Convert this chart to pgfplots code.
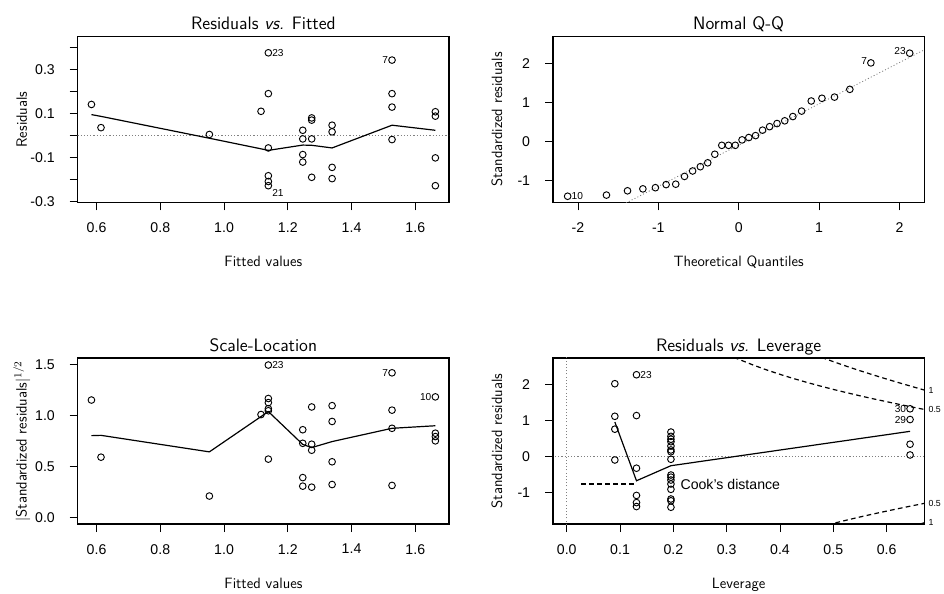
\documentclass[border=0pt]{standalone}
\usepackage{fontspec}
\setmainfont{Liberation Sans}
\usepackage{pgfplots}
\pgfplotsset{compat=1.18}
\newcommand{\tickf}{\fontsize{10.6}{12}\selectfont}
\newcommand{\labf}{\sffamily\fontsize{11.2}{13}\selectfont}
\newcommand{\titf}{\sffamily\fontsize{13.5}{15}\selectfont}
\newcommand{\idf}{\fontsize{7.6}{9}\selectfont}
\newcommand{\ckf}{\fontsize{6.6}{8}\selectfont}

\tikzset{
 idl/.style={font=\idf, inner sep=0pt, anchor=west, xshift=2.8pt},
 idr/.style={font=\idf, inner sep=0pt, anchor=east, xshift=-2.8pt},
}
\pgfplotsset{
 rbase/.style={
  scale only axis, width=278.5pt, height=124.5pt,
  anchor=south west,
  axis line style={line width=0.9pt},
  tick style={line width=0.6pt, black},
  major tick length=6pt,
  xtick pos=bottom, ytick pos=left,
  tick align=outside,
  clip mode=individual,
  every axis title/.style={font=\titf, at={(0.5,1)}, anchor=base, yshift=5pt},
  every axis x label/.style={font=\labf, at={(axis description cs:0.5,0)}, anchor=base, yshift=-48pt},
  every axis y label/.style={font=\labf, at={(axis description cs:0,0.5)}, rotate=90, anchor=center, yshift=42pt},
  xticklabel style={font=\tickf, anchor=north, yshift=-9pt, inner sep=0pt},
  yticklabel style={font=\tickf, anchor=east, xshift=-11pt, inner sep=0pt},
 },
 pts/.style={only marks, mark=o, mark size=2.5pt, black, mark options={line width=0.7pt}},
 lowess/.style={no marks, black, line width=0.9pt},
 refl/.style={no marks, gray, dash pattern=on 0.8pt off 1.6pt, line width=0.6pt},
 cook/.style={no marks, black, dash pattern=on 3.5pt off 2.5pt, line width=0.9pt},
}

\begin{document}
\begin{tikzpicture}
\useasboundingbox (0pt,0pt) rectangle (708pt,444.75pt);

% ---------------- Residuals vs Fitted
\begin{axis}[rbase, at={(58.3pt,292.9pt)},
  title={Residuals \textit{vs.} Fitted},
  xlabel={Fitted values}, ylabel={Residuals},
  xmin=0.541, xmax=1.706, ymin=-0.303, ymax=0.449,
  xtick={0.6,0.8,1.0,1.2,1.4,1.6}, xticklabels={0.6,0.8,1.0,1.2,1.4,1.6},
  ytick={-0.3,-0.2,-0.1,0,0.1,0.2,0.3,0.4}, yticklabels={-0.3,,-0.1,,0.1,,0.3,},
]
\addplot[refl] coordinates {(0.5,0) (1.8,0)};
\addplot[pts] table {
0.584 0.141
0.614 0.036
0.954 0.005
1.116 0.110
1.139 0.375
1.139 0.190
1.139 -0.056
1.139 -0.182
1.139 -0.208
1.139 -0.227
1.247 0.024
1.247 -0.015
1.247 -0.086
1.247 -0.120
1.275 0.080
1.275 0.070
1.275 -0.015
1.275 -0.189
1.339 0.047
1.339 0.017
1.339 -0.144
1.339 -0.195
1.527 0.342
1.527 0.190
1.527 0.129
1.527 -0.018
1.663 0.108
1.663 0.088
1.663 -0.101
1.663 -0.227
};
\addplot[lowess] coordinates {(0.584,0.095) (0.614,0.087) (0.954,-0.012) (1.116,-0.060) (1.139,-0.067) (1.247,-0.043) (1.275,-0.044) (1.339,-0.056) (1.527,0.047) (1.663,0.024)};
\node[idl] at (axis cs:1.139,0.375) {23};
\node[idl, yshift=-5.5pt] at (axis cs:1.139,-0.227) {21};
\node[idr] at (axis cs:1.527,0.342) {7};
\end{axis}

% ---------------- Normal Q-Q
\begin{axis}[rbase, at={(414.75pt,292.9pt)},
  title={Normal Q-Q},
  xlabel={Theoretical Quantiles}, ylabel={Standardized residuals},
  xmin=-2.31, xmax=2.31, ymin=-1.57, ymax=2.70,
  xtick={-2,-1,0,1,2}, xticklabels={-2,-1,0,1,2},
  ytick={-1,0,1,2}, yticklabels={-1,0,1,2},
]
\addplot[refl] coordinates {(-2.5,-2.75) (2.5,2.56)};
\addplot[pts] table {
-2.128 -1.41
-1.645 -1.38
-1.383 -1.27
-1.192 -1.22
-1.036 -1.19
-0.903 -1.11
-0.783 -1.10
-0.674 -0.90
-0.573 -0.76
-0.477 -0.65
-0.385 -0.55
-0.297 -0.33
-0.210 -0.10
-0.126 -0.10
-0.042 -0.10
0.042 0.04
0.126 0.10
0.210 0.15
0.297 0.29
0.385 0.38
0.477 0.46
0.573 0.53
0.674 0.64
0.783 0.78
0.903 1.04
1.036 1.11
1.192 1.14
1.383 1.34
1.645 2.02
2.128 2.27
};
\node[idl] at (axis cs:-2.128,-1.41) {10};
\node[idr, yshift=1.5pt] at (axis cs:1.645,2.02) {7};
\node[idr, yshift=1.5pt] at (axis cs:2.128,2.27) {23};
\end{axis}

% ---------------- Scale-Location
\begin{axis}[rbase, at={(58.3pt,51.75pt)},
  title={Scale-Location},
  xlabel={Fitted values}, ylabel={$|$Standardized residuals$|^{1/2}$},
  xmin=0.541, xmax=1.706, ymin=-0.060, ymax=1.567,
  xtick={0.6,0.8,1.0,1.2,1.4,1.6}, xticklabels={0.6,0.8,1.0,1.2,1.4,1.6},
  ytick={0,0.5,1,1.5}, yticklabels={0.0,0.5,1.0,1.5},
]
\addplot[pts] table {
0.584 1.155
0.614 0.595
0.954 0.214
1.116 1.013
1.139 1.498
1.139 1.170
1.139 1.130
1.139 1.070
1.139 1.050
1.139 0.576
1.247 0.864
1.247 0.731
1.247 0.395
1.247 0.311
1.275 1.087
1.275 0.722
1.275 0.663
1.275 0.301
1.339 1.100
1.339 0.945
1.339 0.550
1.339 0.327
1.527 1.422
1.527 1.056
1.527 0.878
1.527 0.318
1.663 1.186
1.663 0.830
1.663 0.797
1.663 0.755
};
\addplot[lowess] coordinates {(0.584,0.806) (0.614,0.809) (0.954,0.647) (1.116,0.993) (1.139,1.042) (1.247,0.72) (1.275,0.689) (1.339,0.748) (1.527,0.878) (1.663,0.903)};
\node[idl] at (axis cs:1.139,1.498) {23};
\node[idr] at (axis cs:1.527,1.422) {7};
\node[idr] at (axis cs:1.663,1.186) {10};
\end{axis}

% ---------------- Residuals vs Leverage
\begin{axis}[rbase, at={(414.75pt,51.75pt)},
  title={Residuals \textit{vs.} Leverage},
  xlabel={Leverage}, ylabel={Standardized residuals},
  xmin=-0.0258, xmax=0.6708, ymin=-1.888, ymax=2.748,
  xtick={0,0.1,0.2,0.3,0.4,0.5,0.6}, xticklabels={0.0,0.1,0.2,0.3,0.4,0.5,0.6},
  ytick={-1,0,1,2}, yticklabels={-1,0,1,2},
]
\addplot[refl] coordinates {(0,-2) (0,3)};
\addplot[refl] coordinates {(-0.1,0) (0.8,0)};
\addplot[pts] table {
0.0902 2.03
0.0902 1.12
0.0902 0.76
0.0902 -0.10
0.1308 2.28
0.1308 1.14
0.1308 -0.33
0.1308 -1.09
0.1308 -1.29
0.1308 -1.40
0.1954 0.68
0.1954 0.56
0.1954 0.48
0.1954 0.41
0.1954 0.29
0.1954 0.18
0.1954 0.13
0.1954 -0.08
0.1954 -0.52
0.1954 -0.58
0.1954 -0.66
0.1954 -0.77
0.1954 -0.92
0.1954 -1.19
0.1954 -1.24
0.1954 -1.42
0.644 1.33
0.644 1.03
0.644 0.34
0.644 0.04
};
\addplot[lowess] coordinates {(0.0902,0.96) (0.1308,-0.68) (0.1954,-0.26) (0.644,0.70)};
% Cook's distance contours (p = 7)
\addplot[cook] coordinates {(0.30,2.858) (0.32,2.727) (0.35,2.550) (0.375,2.415) (0.40,2.291) (0.425,2.176) (0.45,2.068) (0.475,1.967) (0.50,1.871) (0.525,1.780) (0.55,1.692) (0.575,1.608) (0.60,1.528) (0.625,1.449) (0.65,1.373) (0.6708,1.311)};
\addplot[cook] coordinates {(0.45,2.925) (0.475,2.782) (0.50,2.646) (0.525,2.517) (0.55,2.393) (0.575,2.275) (0.60,2.160) (0.625,2.049) (0.65,1.941) (0.6708,1.853)};
\addplot[cook] coordinates {(0.475,-1.967) (0.50,-1.871) (0.525,-1.780) (0.55,-1.692) (0.575,-1.608) (0.60,-1.528) (0.625,-1.449) (0.65,-1.373) (0.6708,-1.311)};
\addplot[cook] coordinates {(0.65,-1.941) (0.6708,-1.853)};
\addplot[cook] coordinates {(0.0275,-0.77) (0.1308,-0.77)};
\node[font=\tickf, anchor=west, inner sep=0pt] at (axis cs:0.213,-0.77) {Cook's distance};
\node[idl] at (axis cs:0.1308,2.28) {23};
\node[idr] at (axis cs:0.644,1.33) {30};
\node[idr] at (axis cs:0.644,1.03) {29};
\node[font=\ckf, anchor=west, inner sep=0pt, xshift=3pt] at (axis cs:0.6708,1.853) {1};
\node[font=\ckf, anchor=west, inner sep=0pt, xshift=3pt] at (axis cs:0.6708,1.311) {0.5};
\node[font=\ckf, anchor=west, inner sep=0pt, xshift=3pt] at (axis cs:0.6708,-1.311) {0.5};
\node[font=\ckf, anchor=west, inner sep=0pt, xshift=3pt] at (axis cs:0.6708,-1.853) {1};
\end{axis}
\end{tikzpicture}
\end{document}
